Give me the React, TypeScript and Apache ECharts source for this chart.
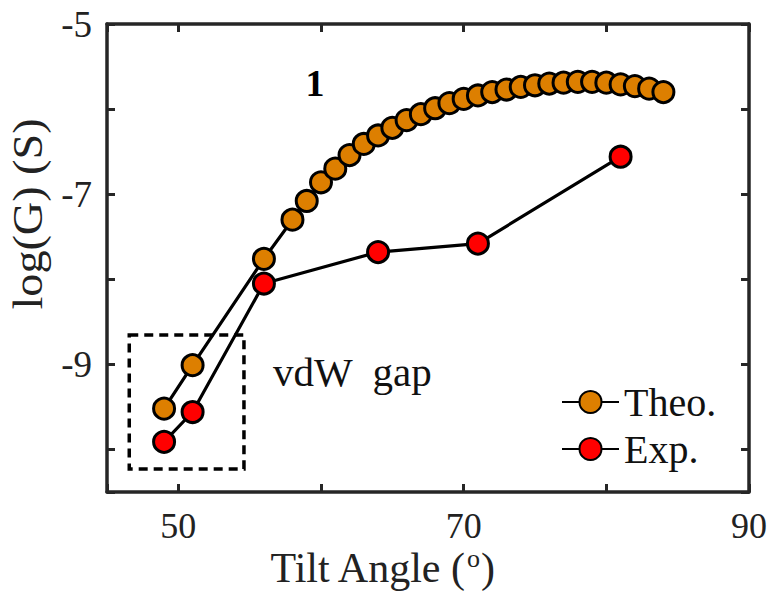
import React, { useEffect, useRef } from 'react';
import * as echarts from 'echarts';

const theoAngles = [49, 51, 56, 58, 59, 60, 61, 62, 63, 64, 65, 66, 67, 68, 69, 70, 71, 72, 73, 74, 75, 76, 77, 78, 79, 80, 81, 82, 83, 84];
const theoLogG = [-9.52, -9.01, -7.76, -7.3, -7.08, -6.86, -6.7, -6.54, -6.41, -6.31, -6.22, -6.13, -6.06, -5.99, -5.93, -5.88, -5.84, -5.8, -5.77, -5.74, -5.72, -5.7, -5.69, -5.68, -5.68, -5.69, -5.71, -5.73, -5.76, -5.8];
const expAngles = [49, 51, 56, 64, 71, 81];
const expLogG = [-9.91, -9.56, -8.05, -7.68, -7.58, -6.56];
const seriesNames = ['Theo.', 'Exp.'];
const xTickLabels = [50, 70, 90];
const yTickLabels = [-5, -7, -9];
const gapBoxCorners = [[46.56, -8.655], [54.6, -10.23]];

const FONT = 'Liberation Serif, Times New Roman, serif';
const AXIS_COLOR = '#262626';

export default function App() {
  const ref = useRef<HTMLDivElement>(null);
  useEffect(() => {
    if (!ref.current) return;
    const chart = echarts.init(ref.current, null, { renderer: 'svg' });
    const axisCommon = {
      axisLine: { show: true, onZero: false, lineStyle: { color: AXIS_COLOR, width: 3.5 } },
      axisTick: { show: true, inside: true, length: 8, lineStyle: { color: AXIS_COLOR, width: 3 } },
      splitLine: { show: false },
    };
    const markerStyle = (color: string) => ({ color, borderColor: '#000', borderWidth: 3 });
    chart.setOption({
      animation: false,
      grid: { left: 107, right: 22, top: 24, bottom: 100, containLabel: false },
      xAxis: [
        {
          type: 'value', min: 45, max: 90, splitNumber: 5, position: 'bottom',
          ...axisCommon,
          axisLabel: {
            margin: 20, fontFamily: FONT, fontSize: 36, lineHeight: 28, color: '#222',
            formatter: (v: number) => (xTickLabels.includes(v) ? String(v) : ''),
          },
        },
        {
          type: 'value', min: 45, max: 90, splitNumber: 5, position: 'top',
          ...axisCommon, axisLabel: { show: false },
        },
      ],
      yAxis: [
        {
          type: 'value', min: -10.5, max: -5, splitNumber: 5, position: 'left',
          ...axisCommon,
          axisLabel: {
            margin: 15, fontFamily: FONT, fontSize: 37, color: '#222',
            formatter: (v: number) => (yTickLabels.includes(v) ? String(v) : ''),
          },
        },
        {
          type: 'value', min: -10.5, max: -5, splitNumber: 5, position: 'right',
          ...axisCommon, axisLabel: { show: false },
        },
      ],
      legend: {
        data: seriesNames,
        orient: 'vertical',
        left: 556,
        top: 377,
        itemWidth: 57,
        itemHeight: 27.5,
        itemGap: 7,
        textStyle: { fontFamily: FONT, fontSize: 40, color: '#111' },
      },
      series: [
        {
          name: seriesNames[0],
          type: 'line',
          data: theoAngles.map((a, i) => [a, theoLogG[i]]),
          symbol: 'circle',
          symbolSize: 21,
          itemStyle: markerStyle('#DD7F00'),
          lineStyle: { color: '#000', width: 3.2 },
          markArea: {
            silent: true,
            itemStyle: { color: 'rgba(0,0,0,0)', borderColor: '#000', borderWidth: 3.5, borderType: [9, 6] },
            data: [[{ coord: gapBoxCorners[0] }, { coord: gapBoxCorners[1] }]],
          },
        },
        {
          name: seriesNames[1],
          type: 'line',
          data: expAngles.map((a, i) => [a, expLogG[i]]),
          symbol: 'circle',
          symbolSize: 21,
          itemStyle: markerStyle('#FF0000'),
          lineStyle: { color: '#000', width: 3.2 },
        },
      ],
      graphic: [
        {
          type: 'text', x: 465, y: 568,
          style: {
            text: 'Tilt Angle (', x: 0, y: 0, align: 'right', verticalAlign: 'middle',
            fontFamily: FONT, fontSize: 42, fill: '#222',
          },
        },
        {
          type: 'text', x: 467, y: 558.5,
          style: {
            text: 'o', x: 0, y: 0, align: 'left', verticalAlign: 'middle',
            fontFamily: FONT, fontSize: 26, lineHeight: 14, fill: '#222',
          },
        },
        {
          type: 'text', x: 481, y: 568,
          style: {
            text: ')', x: 0, y: 0, align: 'left', verticalAlign: 'middle',
            fontFamily: FONT, fontSize: 42, fill: '#222',
          },
        },
        {
          type: 'text', x: 28, y: 214, rotation: Math.PI / 2, scaleX: 1.1,
          style: {
            text: 'log(G) (S)', x: 0, y: 0, align: 'center', verticalAlign: 'middle',
            fontFamily: FONT, fontSize: 42, fill: '#222',
          },
        },
        {
          type: 'text', x: 273, y: 372,
          style: { text: 'vdW  gap', align: 'left', verticalAlign: 'middle', fontFamily: FONT, fontSize: 41, fill: '#111' },
        },
        {
          type: 'text', x: 315, y: 83,
          style: { text: '1', align: 'center', verticalAlign: 'middle', fontFamily: FONT, fontSize: 38, fontWeight: 'bold', fill: '#000' },
        },
      ],
    });
    return () => chart.dispose();
  }, []);
  return <div ref={ref} style={{ position: 'fixed', left: 0, top: 0, width: 771, height: 592, background: '#fff' }} />;
}
